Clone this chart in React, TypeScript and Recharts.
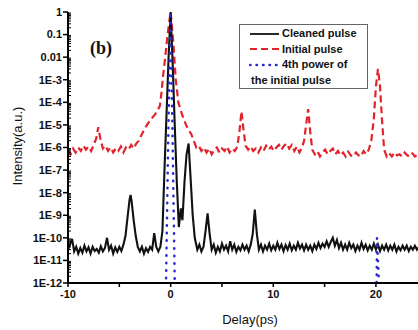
import React from 'react';
import { LineChart, Line, XAxis, YAxis, Legend } from 'recharts';

// Cleaned pulse (black solid) [delay ps, intensity]
const cleanedPulse: [number, number][] = [
  [-10, 3e-11], [-9.8, 5e-11], [-9.6, 9e-11], [-9.4, 2.5e-11], [-9.2, 4e-11], [-9.0, 2e-11],
  [-8.8, 3.5e-11], [-8.6, 2.2e-11], [-8.4, 4.5e-11], [-8.2, 2.5e-11], [-8.0, 3.8e-11], [-7.8, 2e-11],
  [-7.6, 4e-11], [-7.4, 2.6e-11], [-7.2, 3.2e-11], [-7.0, 2.2e-11], [-6.8, 4.2e-11], [-6.6, 2.5e-11],
  [-6.4, 3.6e-11], [-6.2, 1e-10], [-6.0, 3e-11], [-5.8, 4.5e-11], [-5.6, 2e-11], [-5.4, 3.8e-11],
  [-5.2, 2.4e-11], [-5.0, 4e-11], [-4.8, 2.6e-11], [-4.6, 5e-11], [-4.4, 1.2e-10], [-4.2, 8e-10],
  [-4.0, 5e-9], [-3.9, 8e-9], [-3.8, 4e-9], [-3.6, 6e-10], [-3.4, 1.2e-10], [-3.2, 4e-11],
  [-3.0, 2.5e-11], [-2.8, 4e-11], [-2.6, 2e-11], [-2.4, 3.5e-11], [-2.2, 2.4e-11], [-2.0, 4e-11],
  [-1.8, 3e-11], [-1.6, 1.6e-10], [-1.4, 4e-11], [-1.2, 2.5e-11], [-1.0, 4e-11], [-0.8, 2e-10],
  [-0.6, 1e-7], [-0.4, 3e-5], [-0.2, 1e-2], [0, 1], [0.2, 5e-3], [0.4, 1e-5], [0.6, 3e-8],
  [0.8, 3e-10], [1.0, 2e-9], [1.15, 6e-10], [1.35, 3e-8], [1.55, 5e-7], [1.75, 1.5e-6], [1.95, 4e-8],
  [2.15, 1e-9], [2.35, 1e-10], [2.6, 3e-11], [2.8, 5e-11], [3.0, 2.5e-11], [3.2, 4e-11], [3.4, 2e-10],
  [3.6, 1.2e-9], [3.8, 1.5e-10], [4.0, 3e-11], [4.2, 5e-11], [4.4, 2.2e-11], [4.6, 4e-11], [4.8, 2.5e-11],
  [5.0, 5.5e-11], [5.2, 3e-11], [5.4, 4.5e-11], [5.6, 2.5e-11], [5.8, 7e-11], [6.0, 3e-11], [6.2, 5e-11],
  [6.4, 2.4e-11], [6.6, 4e-11], [6.8, 2.8e-11], [7.0, 5e-11], [7.2, 3e-11], [7.4, 4.5e-11], [7.6, 2.5e-11],
  [7.8, 5e-11], [8.0, 1.5e-10], [8.2, 1.8e-9], [8.4, 1.5e-10], [8.6, 3e-11], [8.8, 5e-11], [9.0, 2.5e-11],
  [9.2, 4.5e-11], [9.4, 3e-11], [9.6, 5.5e-11], [9.8, 2.8e-11], [10.0, 4.5e-11], [10.2, 3e-11],
  [10.4, 6e-11], [10.6, 3.2e-11], [10.8, 5e-11], [11.0, 2.6e-11], [11.2, 4.8e-11], [11.4, 3e-11],
  [11.6, 5.5e-11], [11.8, 2.8e-11], [12.0, 4.5e-11], [12.2, 3e-11], [12.4, 6e-11], [12.6, 3.4e-11],
  [12.8, 5e-11], [13.0, 2.8e-11], [13.2, 5e-11], [13.4, 3e-11], [13.6, 4.5e-11], [13.8, 2.6e-11],
  [14.0, 5e-11], [14.2, 3.2e-11], [14.4, 6e-11], [14.6, 3.5e-11], [14.8, 5.5e-11], [15.0, 4e-11],
  [15.2, 7e-11], [15.4, 4e-11], [15.6, 6.5e-11], [15.8, 1e-10], [16.0, 4.5e-11], [16.2, 8e-11],
  [16.4, 3.5e-11], [16.6, 6e-11], [16.8, 3e-11], [17.0, 5e-11], [17.2, 3e-11], [17.4, 6e-11],
  [17.6, 3.5e-11], [17.8, 5e-11], [18.0, 2.6e-11], [18.2, 4.5e-11], [18.4, 3e-11], [18.6, 6e-11],
  [18.8, 3.2e-11], [19.0, 5e-11], [19.2, 2.8e-11], [19.4, 4.5e-11], [19.6, 3e-11], [19.8, 5.5e-11],
  [20.0, 3e-11], [20.2, 5e-11], [20.4, 2.6e-11], [20.6, 4.5e-11], [20.8, 3e-11], [21.0, 5e-11],
  [21.2, 2.8e-11], [21.4, 4.5e-11], [21.6, 3e-11], [21.8, 5e-11], [22.0, 2.5e-11], [22.2, 4e-11],
  [22.4, 2.8e-11], [22.6, 4.5e-11], [22.8, 3e-11], [23.0, 4.5e-11], [23.2, 2.6e-11], [23.4, 4e-11],
  [23.6, 3e-11], [23.8, 4.5e-11], [24.0, 3e-11], [24.2, 4e-11],
];

// Initial pulse (red dashed)
const initialPulse: [number, number][] = [
  [-10, 8e-7], [-9.75, 5e-7], [-9.5, 9e-7], [-9.25, 6e-7], [-9.0, 1e-6], [-8.75, 7e-7], [-8.5, 1.2e-6],
  [-8.25, 8e-7], [-8.0, 1.1e-6], [-7.75, 7e-7], [-7.5, 1.3e-6], [-7.25, 2.5e-6], [-7.05, 8e-6],
  [-6.85, 2.5e-6], [-6.6, 9e-7], [-6.35, 1.2e-6], [-6.1, 7e-7], [-5.85, 1e-6], [-5.6, 6e-7], [-5.35, 9e-7],
  [-5.1, 7e-7], [-4.85, 1.1e-6], [-4.6, 6e-7], [-4.35, 1e-6], [-4.1, 8e-7], [-3.85, 1.3e-6], [-3.6, 9e-7],
  [-3.35, 1.5e-6], [-3.1, 2e-6], [-2.85, 3.5e-6], [-2.6, 6e-6], [-2.3, 1e-5], [-2.0, 1.6e-5],
  [-1.75, 2.2e-5], [-1.5, 3e-5], [-1.25, 4.5e-5], [-1.05, 7e-5], [-0.9, 2.5e-4], [-0.75, 1.3e-3],
  [-0.55, 8e-3], [-0.3, 0.1], [0, 1], [0.25, 5e-2], [0.5, 1e-3], [0.75, 1e-4], [1.1, 3e-5],
  [1.5, 1e-5], [1.75, 6e-6], [2.0, 4e-6], [2.25, 2e-6], [2.5, 1e-6], [2.75, 1.2e-6],
  [3.0, 7e-7], [3.25, 1e-6], [3.5, 6e-7], [3.75, 9e-7], [4.0, 5e-7], [4.25, 8e-7], [4.5, 1e-6],
  [4.75, 6e-7], [5.0, 9e-7], [5.25, 7e-7], [5.5, 1.1e-6], [5.75, 6e-7], [6.0, 9e-7], [6.25, 7e-7],
  [6.5, 1.1e-6], [6.7, 5e-6], [6.9, 4e-5], [7.1, 6e-6], [7.3, 1.2e-6], [7.55, 8e-7], [7.8, 1.1e-6],
  [8.05, 7e-7], [8.3, 9e-7], [8.55, 6e-7], [8.8, 1e-6], [9.05, 7e-7], [9.3, 1.2e-6], [9.55, 8e-7],
  [9.8, 1.1e-6], [10.05, 7e-7], [10.3, 1e-6], [10.55, 1.3e-6], [10.8, 8e-7], [11.05, 1.2e-6],
  [11.3, 1.5e-6], [11.55, 9e-7], [11.8, 1.3e-6], [12.05, 7e-7], [12.3, 1.1e-6], [12.55, 6e-7],
  [12.8, 1e-6], [13.0, 2e-6], [13.2, 1e-5], [13.4, 5e-5], [13.6, 5e-6], [13.8, 8e-7], [14.05, 5e-7],
  [14.3, 7e-7], [14.55, 4e-7], [14.8, 6e-7], [15.05, 8e-7], [15.3, 5e-7], [15.55, 7e-7], [15.8, 9e-7],
  [16.05, 5e-7], [16.3, 7e-7], [16.55, 4.5e-7], [16.8, 6e-7], [17.05, 4e-7], [17.3, 6.5e-7],
  [17.55, 4.5e-7], [17.8, 4e-7], [18.05, 6e-7], [18.3, 4.5e-7], [18.55, 4e-7], [18.8, 7e-7],
  [19.05, 5e-7], [19.3, 8e-7], [19.55, 2e-6], [19.8, 2e-5], [20.0, 5e-4], [20.2, 3e-3], [20.4, 5e-4],
  [20.6, 1.5e-5], [20.8, 8e-7], [21.05, 4e-7], [21.3, 5.5e-7], [21.55, 4e-7], [21.8, 6e-7],
  [22.05, 4.5e-7], [22.3, 5e-7], [22.55, 4e-7], [22.8, 6e-7], [23.05, 4.5e-7], [23.3, 4e-7],
  [23.55, 5.5e-7], [23.8, 4e-7], [24.1, 5e-7],
];

// 4th power of the initial pulse (blue dotted)
const fourthPower: [number, number][] = [
  [-10, 1e-24], [-0.6, 1e-16], [-0.45, 1e-12], [-0.25, 1e-6], [0, 1], [0.2, 1e-6], [0.4, 1e-12],
  [0.55, 1e-16], [19.95, 1e-20], [20.1, 1e-10], [20.3, 1e-12], [20.45, 1e-20], [24.1, 1e-24],
];

const xTicks = [-10, -5, 0, 5, 10, 15, 20];
const xLabeledTicks = [-10, 0, 10, 20];
const yTicks = [1, 0.1, 0.01, 1e-3, 1e-4, 1e-5, 1e-6, 1e-7, 1e-8, 1e-9, 1e-10, 1e-11, 1e-12];
const yTickLabels = ['1', '0.1', '0.01', '1E-3', '1E-4', '1E-5', '1E-6', '1E-7', '1E-8', '1E-9', '1E-10', '1E-11', '1E-12'];
const yMinorTicks = yTicks.slice(1).flatMap((d) => [2, 3, 4, 5, 6, 7, 8, 9].map((m) => m * d));

const toRows = (pairs: [number, number][]) => pairs.map(([x, y]) => ({ x, y }));

const FONT = "'Liberation Sans', Arial, sans-serif";
const RED = '#e3232b';
const BLUE = '#2a2ad2';
const BLACK = '#111';

const legendItems = [
  { label: 'Cleaned pulse', color: BLACK, dash: undefined as string | undefined, width: 1.8, cap: 'butt' },
  { label: 'Initial pulse', color: RED, dash: '7 4', width: 2.2, cap: 'butt' },
  { label: '4th power of', color: BLUE, dash: '0.5 6', width: 2.5, cap: 'round' },
];

const renderLegend = () => (
  <div
    style={{
      width: 129,
      height: 65,
      border: '1px solid #666',
      boxSizing: 'border-box',
      background: '#fff',
      fontFamily: FONT,
      fontWeight: 'bold',
      fontSize: 11,
      color: '#111',
      padding: '1px 0 0 9px',
      lineHeight: '15.5px',
    }}
  >
    {legendItems.map((it) => (
      <div key={it.label} style={{ display: 'flex', alignItems: 'center', height: 15.5 }}>
        <svg width={31} height={6}>
          <line
            x1={1}
            y1={3}
            x2={30}
            y2={3}
            stroke={it.color}
            strokeWidth={it.width}
            strokeDasharray={it.dash}
            strokeLinecap={it.cap as any}
          />
        </svg>
        <span style={{ marginLeft: 2, whiteSpace: 'nowrap' }}>{it.label}</span>
      </div>
    ))}
    <div style={{ height: 15.5, marginLeft: 2, whiteSpace: 'nowrap' }}>the initial pulse</div>
  </div>
);

export default function App() {
  const tickStyle = { fontFamily: FONT, fontWeight: 'bold', fontSize: 11, fill: '#111' };
  return (
    <div style={{ position: 'absolute', left: 0, top: 0, width: 418, height: 330, overflow: 'hidden', background: '#fff' }}>
      <LineChart width={418} height={330} margin={{ top: 12, right: 0, bottom: 0, left: 0 }}>
        <XAxis
          xAxisId="b"
          dataKey="x"
          type="number"
          domain={[-10, 24.1]}
          allowDataOverflow
          ticks={xTicks}
          interval={0}
          tickFormatter={(v: number) => (xLabeledTicks.includes(v) ? String(v) : '')}
          height={47}
          tickSize={4}
          tickMargin={3}
          tick={tickStyle}
          axisLine={{ stroke: '#000', strokeWidth: 2 }}
          tickLine={{ stroke: '#000', strokeWidth: 1.5 }}
          label={{
            content: () => (
              <text x={250} y={324} textAnchor="middle" style={{ fontFamily: FONT, fontSize: 13, fill: '#111' }}>
                Delay(ps)
              </text>
            ),
          }}
        />
        <XAxis
          xAxisId="t"
          orientation="top"
          type="number"
          domain={[-10, 24.1]}
          allowDataOverflow
          ticks={xTicks}
          interval={0}
          tickFormatter={() => ''}
          height={0}
          tickSize={3}
          axisLine={{ stroke: '#000', strokeWidth: 1.5 }}
          tickLine={{ stroke: '#000', strokeWidth: 1.5 }}
        />
        <YAxis
          yAxisId="main"
          type="number"
          scale="log"
          domain={[1e-12, 1]}
          allowDataOverflow
          ticks={yTicks}
          interval={0}
          tickFormatter={(v: number) => {
            const i = yTicks.findIndex((t) => Math.abs(Math.log10(t) - Math.log10(v)) < 1e-6);
            return i >= 0 ? yTickLabels[i] : '';
          }}
          width={68}
          tickSize={5}
          tickMargin={1}
          tick={tickStyle}
          axisLine={{ stroke: '#000', strokeWidth: 2 }}
          tickLine={{ stroke: '#000', strokeWidth: 1.5 }}
          label={{
            content: () => (
              <text
                x={17}
                y={146}
                transform="rotate(-90 17 146)"
                textAnchor="middle"
                dominantBaseline="central"
                style={{ fontFamily: FONT, fontSize: 13, fill: '#111' }}
              >
                Intensity(a.u.)
              </text>
            ),
          }}
        />
        <YAxis
          yAxisId="minor"
          type="number"
          scale="log"
          mirror
          domain={[1e-12, 1]}
          allowDataOverflow
          ticks={yMinorTicks}
          interval={0}
          tickFormatter={() => ''}
          tickSize={3}
          axisLine={false}
          tickLine={{ stroke: '#000', strokeWidth: 1 }}
        />
        <Legend
          content={renderLegend}
          layout="vertical"
          align="center"
          verticalAlign="middle"
          wrapperStyle={{ position: 'absolute', left: 239, top: 24, width: 129, height: 65 }}
        />
        <Line
          xAxisId="b"
          yAxisId="main"
          data={toRows(initialPulse)}
          dataKey="y"
          type="linear"
          stroke={RED}
          strokeWidth={2.2}
          strokeDasharray="7 4"
          dot={false}
          activeDot={false}
          isAnimationActive={false}
        />
        <Line
          xAxisId="b"
          yAxisId="main"
          data={toRows(cleanedPulse)}
          dataKey="y"
          type="linear"
          stroke={BLACK}
          strokeWidth={2.1}
          dot={false}
          activeDot={false}
          isAnimationActive={false}
        />
        <Line
          xAxisId="b"
          yAxisId="main"
          data={toRows(fourthPower)}
          dataKey="y"
          type="linear"
          stroke={BLUE}
          strokeWidth={2.5}
          strokeDasharray="0.5 7"
          strokeLinecap="round"
          dot={false}
          activeDot={false}
          isAnimationActive={false}
        />
      </LineChart>
      <div
        style={{
          position: 'absolute',
          left: 90,
          top: 38,
          fontFamily: "'Liberation Serif', 'Times New Roman', serif",
          fontWeight: 'bold',
          fontSize: 18,
          color: '#111',
          lineHeight: '20px',
        }}
      >
        (b)
      </div>
    </div>
  );
}
